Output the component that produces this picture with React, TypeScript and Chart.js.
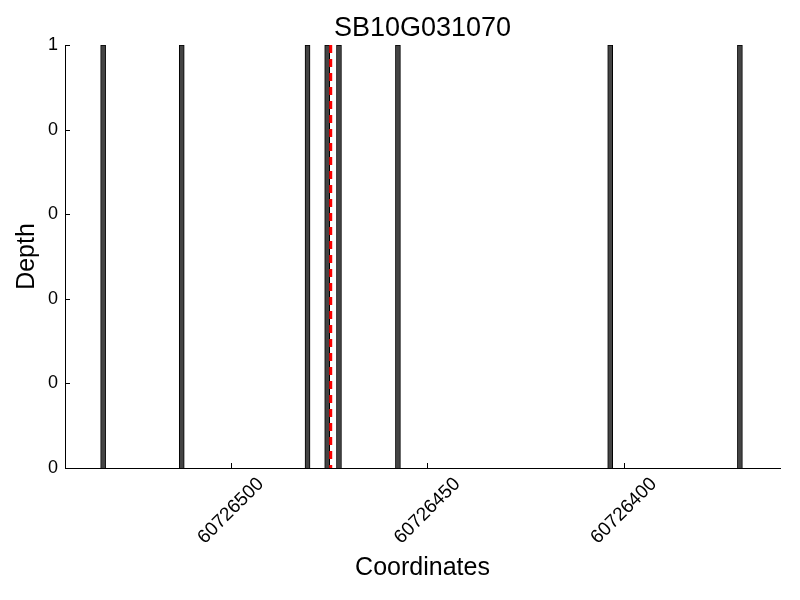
import React, { useEffect, useRef } from "react";
import { Chart, registerables } from "chart.js";

Chart.register(...registerables);

// bar start coordinates (each bar spans one base, drawn from its start edge)
const positions = [60726532, 60726512, 60726480, 60726475, 60726472, 60726457, 60726403, 60726370];
const depths = [1, 1, 1, 1, 1, 1, 1, 1];
const xTickValues = [60726500, 60726450, 60726400];
const yTickValues = [0, 0.2, 0.4, 0.6, 0.8, 1];
const markerPosition = 60726474.6;
const xMin = 60726360.3;
const xMax = 60726542.2;
const titleText = "SB10G031070";
const xTitle = "Coordinates";
const yTitle = "Depth";

const FONT = "'Liberation Sans', Arial, sans-serif";

const overlayPlugin = {
  id: "overlay",
  afterDatasetsDraw(chart: any) {
    const { ctx, chartArea, scales } = chart;
    const xs = scales.x;
    const px = xs.getPixelForValue(markerPosition);
    ctx.save();
    ctx.strokeStyle = "#ff0000";
    ctx.lineWidth = 3;
    ctx.setLineDash([8, 6]);
    ctx.beginPath();
    ctx.moveTo(px, chartArea.top);
    ctx.lineTo(px, chartArea.bottom);
    ctx.stroke();
    ctx.restore();
  },
  afterDraw(chart: any) {
    const { ctx, chartArea, scales } = chart;
    const xs = scales.x;
    const ys = scales.y;
    ctx.save();
    // title centred over the plot area
    ctx.fillStyle = "#000";
    ctx.font = `27px ${FONT}`;
    ctx.textAlign = "center";
    ctx.textBaseline = "middle";
    ctx.fillText(titleText, (chartArea.left + chartArea.right) / 2, 29);

    ctx.strokeStyle = "#000";
    ctx.lineWidth = 1;
    yTickValues.forEach((v) => {
      const y = Math.round(ys.getPixelForValue(v)) + 0.5;
      ctx.beginPath();
      ctx.moveTo(chartArea.left, y);
      ctx.lineTo(chartArea.left + 5, y);
      ctx.stroke();
    });
    ctx.font = `19px ${FONT}`;
    xTickValues.forEach((v) => {
      const x = Math.round(xs.getPixelForValue(v)) + 0.5;
      ctx.beginPath();
      ctx.moveTo(x, chartArea.bottom);
      ctx.lineTo(x, chartArea.bottom - 5);
      ctx.stroke();
      const label = String(v);
      const w = ctx.measureText(label).width;
      const h = 17;
      const half = (w + h) / (2 * Math.SQRT2);
      const cy = chartArea.bottom + 7 + half;
      ctx.save();
      ctx.translate(xs.getPixelForValue(v), cy);
      ctx.rotate(-Math.PI / 4);
      ctx.fillText(label, 0, 0);
      ctx.restore();
    });
    ctx.restore();
  },
};

export default function App() {
  const ref = useRef<HTMLCanvasElement>(null);
  useEffect(() => {
    if (!ref.current) return;
    const chart = new Chart(ref.current, {
      type: "bar",
      data: {
        datasets: [
          {
            // edge-aligned bars of width 1: centre sits half a base past the start
            data: positions.map((p, i) => ({ x: p + 0.5, y: depths[i] })),
            backgroundColor: "#444444",
            borderColor: "#000000",
            borderWidth: 1,
            barThickness: 5,
          },
        ],
      },
      options: {
        responsive: false,
        animation: false,
        layout: { padding: { left: 0, right: 20, top: 45, bottom: 0 } },
        plugins: {
          legend: { display: false },
          tooltip: { enabled: false },
          title: { display: false },
        },
        scales: {
          x: {
            type: "linear",
            min: xMin,
            max: xMax,
            reverse: true,
            offset: false,
            grid: { display: false, drawTicks: false },
            border: { display: true, color: "#000", width: 1 },
            ticks: { display: false },
            afterBuildTicks: (scale: any) => {
              scale.ticks = xTickValues.map((v) => ({ value: v }));
            },
            afterFit: (scale: any) => {
              scale.height = 132;
            },
            title: {
              display: true,
              text: xTitle,
              color: "#000",
              font: { family: FONT, size: 25 },
              padding: { top: 0, bottom: 17 },
            },
          },
          y: {
            min: 0,
            max: 1,
            grid: { display: false, drawTicks: false },
            border: { display: true, color: "#000", width: 1 },
            afterBuildTicks: (scale: any) => {
              scale.ticks = yTickValues.map((v) => ({ value: v }));
            },
            ticks: {
              color: "#000",
              font: { family: FONT, size: 18 },
              padding: 7,
              callback: (v: any) => String(Math.trunc(Number(v) + 1e-9)),
            },
            afterFit: (scale: any) => {
              scale.width = 65;
            },
            title: {
              display: true,
              text: yTitle,
              color: "#000",
              font: { family: FONT, size: 25 },
              padding: { top: 12, bottom: 0 },
            },
          },
        },
      },
      plugins: [overlayPlugin],
    });
    return () => chart.destroy();
  }, []);
  return (
    <div style={{ position: "fixed", left: 0, top: 0, width: 800, height: 600, background: "#fff" }}>
      <canvas ref={ref} width={800} height={600} />
    </div>
  );
}
